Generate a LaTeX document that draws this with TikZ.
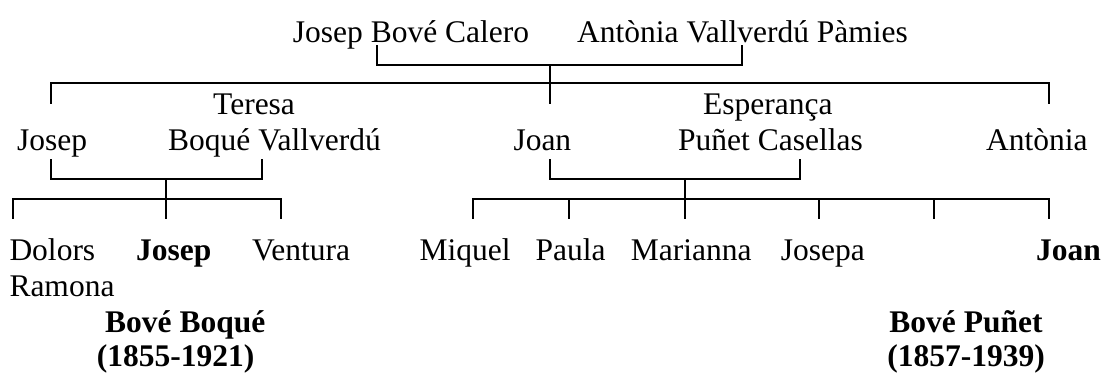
\documentclass[tikz,border=0pt]{standalone}
\usepackage{fontspec}
\setmainfont{Liberation Serif}
\begin{document}
\begin{tikzpicture}[x=1pt,y=-1pt,
  lbl/.style={anchor=base west,inner sep=0pt,font=\fontsize{31.5}{36}\selectfont},
  blbl/.style={lbl,font=\fontsize{31.5}{36}\selectfont\bfseries},
  ln/.style={line width=1.7pt,line cap=rect},
  bigln/.style={line width=2.2pt,line cap=rect}]
\useasboundingbox (0,0) rectangle (1106,376);
% generation 1
\node[lbl] (jbc) at (292.7,42) {Josep Bové Calero};
\node[lbl] (avp) at (577,42) {Antònia Vallverdú Pàmies};
% generation 2
\node[lbl] (teresa) at (213,114) {Teresa};
\node[lbl] (josep2) at (17,150) {Josep};
\node[lbl] (boque) at (168,150) {Boqué Vallverdú};
\node[lbl] (joan2) at (513.3,150) {Joan};
\node[lbl] (esperanca) at (703,114) {Esperança};
\node[lbl] (punet) at (678,150) {Puñet Casellas};
\node[lbl] (antonia2) at (986,150) {Antònia};
% generation 3
\node[lbl] (dolors) at (9.3,260) {Dolors};
\node[lbl] (ramona) at (9.3,296) {Ramona};
\node[blbl] (josep3) at (136,260) {Josep};
\node[blbl] (boveb) at (105,332) {Bové Boqué};
\node[blbl] (datesj) at (96.7,366) {(1855-1921)};
\node[lbl] (ventura) at (252,260) {Ventura};
\node[lbl] (miquel) at (419.3,260) {Miquel};
\node[lbl] (paula) at (535.3,260) {Paula};
\node[lbl] (marianna) at (630.7,260) {Marianna};
\node[lbl] (josepa) at (780.7,260) {Josepa};
\node[blbl,anchor=base east] (joan3) at (1101,260) {Joan};
\node[blbl,anchor=base] (bovep) at (966,332) {Bové Puñet};
\node[blbl,anchor=base] (datesb) at (966,366) {(1857-1939)};
% coordinates
\coordinate (jbcB) at (376.7,46);
\coordinate (avpB) at (742.3,46);
\coordinate (c0) at (550,65);
\coordinate (k1) at (51,103);
\coordinate (k2) at (550,103);
\coordinate (k3) at (1049.3,103);
\coordinate (bar) at (550,83.3);
\coordinate (p1) at (51,160);
\coordinate (p2) at (261.7,160);
\coordinate (jm) at (165.7,179.3);
\coordinate (chl) at (165.7,198.7);
\coordinate (ch1) at (12.7,217.7);
\coordinate (ch2) at (165.7,217.7);
\coordinate (ch3) at (281,217.7);
\coordinate (q1) at (550,160);
\coordinate (q2) at (800.3,160);
\coordinate (qm) at (684.7,179.3);
\coordinate (rl) at (684.7,198.7);
\coordinate (r1) at (473.3,217.7);
\coordinate (r2) at (569,217.7);
\coordinate (r3) at (684.7,217.7);
\coordinate (r4) at (819,217.7);
\coordinate (r5) at (933.7,217.7);
\coordinate (r6) at (1049.3,217.7);
% lines
\draw[ln] (jbcB) |- (c0) -| (avpB);
\draw[ln] (c0) -- (k2);
\draw[bigln] (k1) |- (bar) -| (k3);
\draw[ln] (p1) |- (jm) -| (p2);
\draw[ln] (jm) -- (ch2);
\draw[ln] (ch1) |- (chl) -| (ch3);
\draw[ln] (q1) |- (qm) -| (q2);
\draw[ln] (qm) -- (r3);
\draw[ln] (r1) |- (rl) -| (r6);
\draw[ln] (r2) -- (r2 |- rl);
\draw[ln] (r4) -- (r4 |- rl);
\draw[ln] (r5) -- (r5 |- rl);
\end{tikzpicture}
\end{document}
